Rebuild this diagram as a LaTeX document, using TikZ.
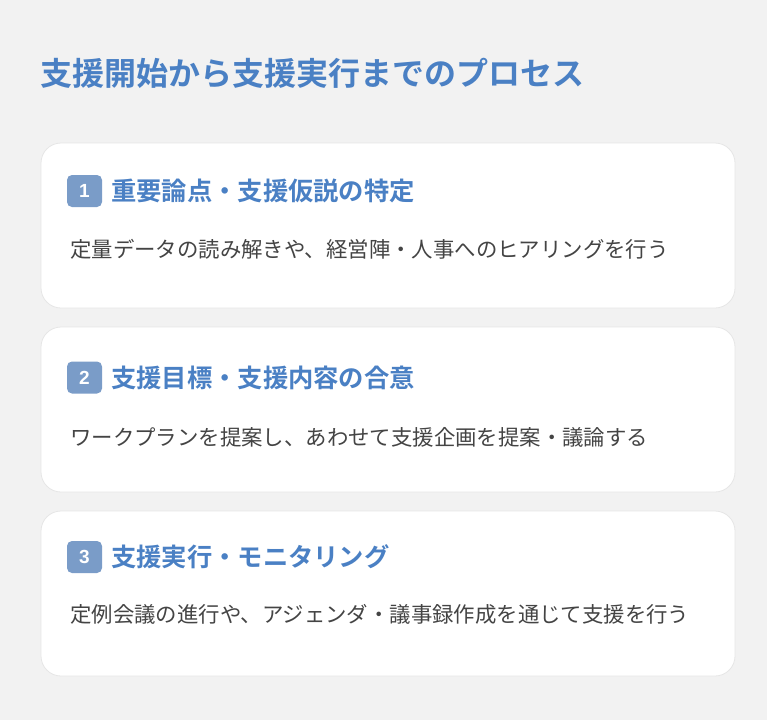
\documentclass[tikz,border=0pt]{standalone}
\usepackage{fontspec}
\setmainfont{Noto Sans CJK JP}
\newfontfamily\jpbold{Noto Sans CJK JP Bold}
\newfontfamily\jpreg{Noto Sans CJK JP}
\newfontfamily\numfont{Liberation Sans}
\definecolor{bgc}{HTML}{F2F2F2}
\definecolor{blue}{HTML}{4A80C4}
\definecolor{badgec}{HTML}{7A9CC8}
\definecolor{bodyc}{HTML}{444444}
\definecolor{cardline}{HTML}{E6E6E6}
\begin{document}
\begin{tikzpicture}[x=1pt,y=-1pt,
  card/.style={draw=cardline,line width=0.8pt,fill=white,rounded corners=20pt},
  badge/.style={fill=badgec,rounded corners=5pt,minimum width=35pt,minimum height=32pt,inner sep=0pt,text=white,font=\numfont\bfseries\fontsize{19}{19}\selectfont},
  maintitle/.style={anchor=west,inner sep=0pt,text=blue,font=\jpbold\fontsize{32}{32}\selectfont},
  cardtitle/.style={anchor=west,inner sep=0pt,text=blue,font=\jpbold\fontsize{25.3}{25}\selectfont},
  bodytext/.style={anchor=west,inner sep=0pt,text=bodyc,font=\jpreg\fontsize{21.4}{22}\selectfont}]
\fill[bgc] (0,0) rectangle (767,720);
\useasboundingbox (0,0) rectangle (767,720);
\node[maintitle] (title) at (40,73) {支援開始から支援実行までのプロセス};
% card 1
\draw[card] (41,143) rectangle (735,308);
\node[badge] (b1) at (84.5,191) {1};
\node[cardtitle] (t1) at (111,191) {重要論点・支援仮説の特定};
\node[bodytext] (d1) at (70,249) {定量データの読み解きや、経営陣・人事へのヒアリングを行う};
% card 2
\draw[card] (41,327) rectangle (735,492);
\node[badge] (b2) at (84.5,377.5) {2};
\node[cardtitle] (t2) at (111,377.5) {支援目標・支援内容の合意};
\node[bodytext] (d2) at (70,437) {ワークプランを提案し、あわせて支援企画を提案・議論する};
% card 3
\draw[card] (41,511) rectangle (735,676);
\node[badge] (b3) at (84.5,557) {3};
\node[cardtitle] (t3) at (111,557) {支援実行・モニタリング};
\node[bodytext] (d3) at (70,614) {定例会議の進行や、アジェンダ・議事録作成を通じて支援を行う};
\end{tikzpicture}
\end{document}
